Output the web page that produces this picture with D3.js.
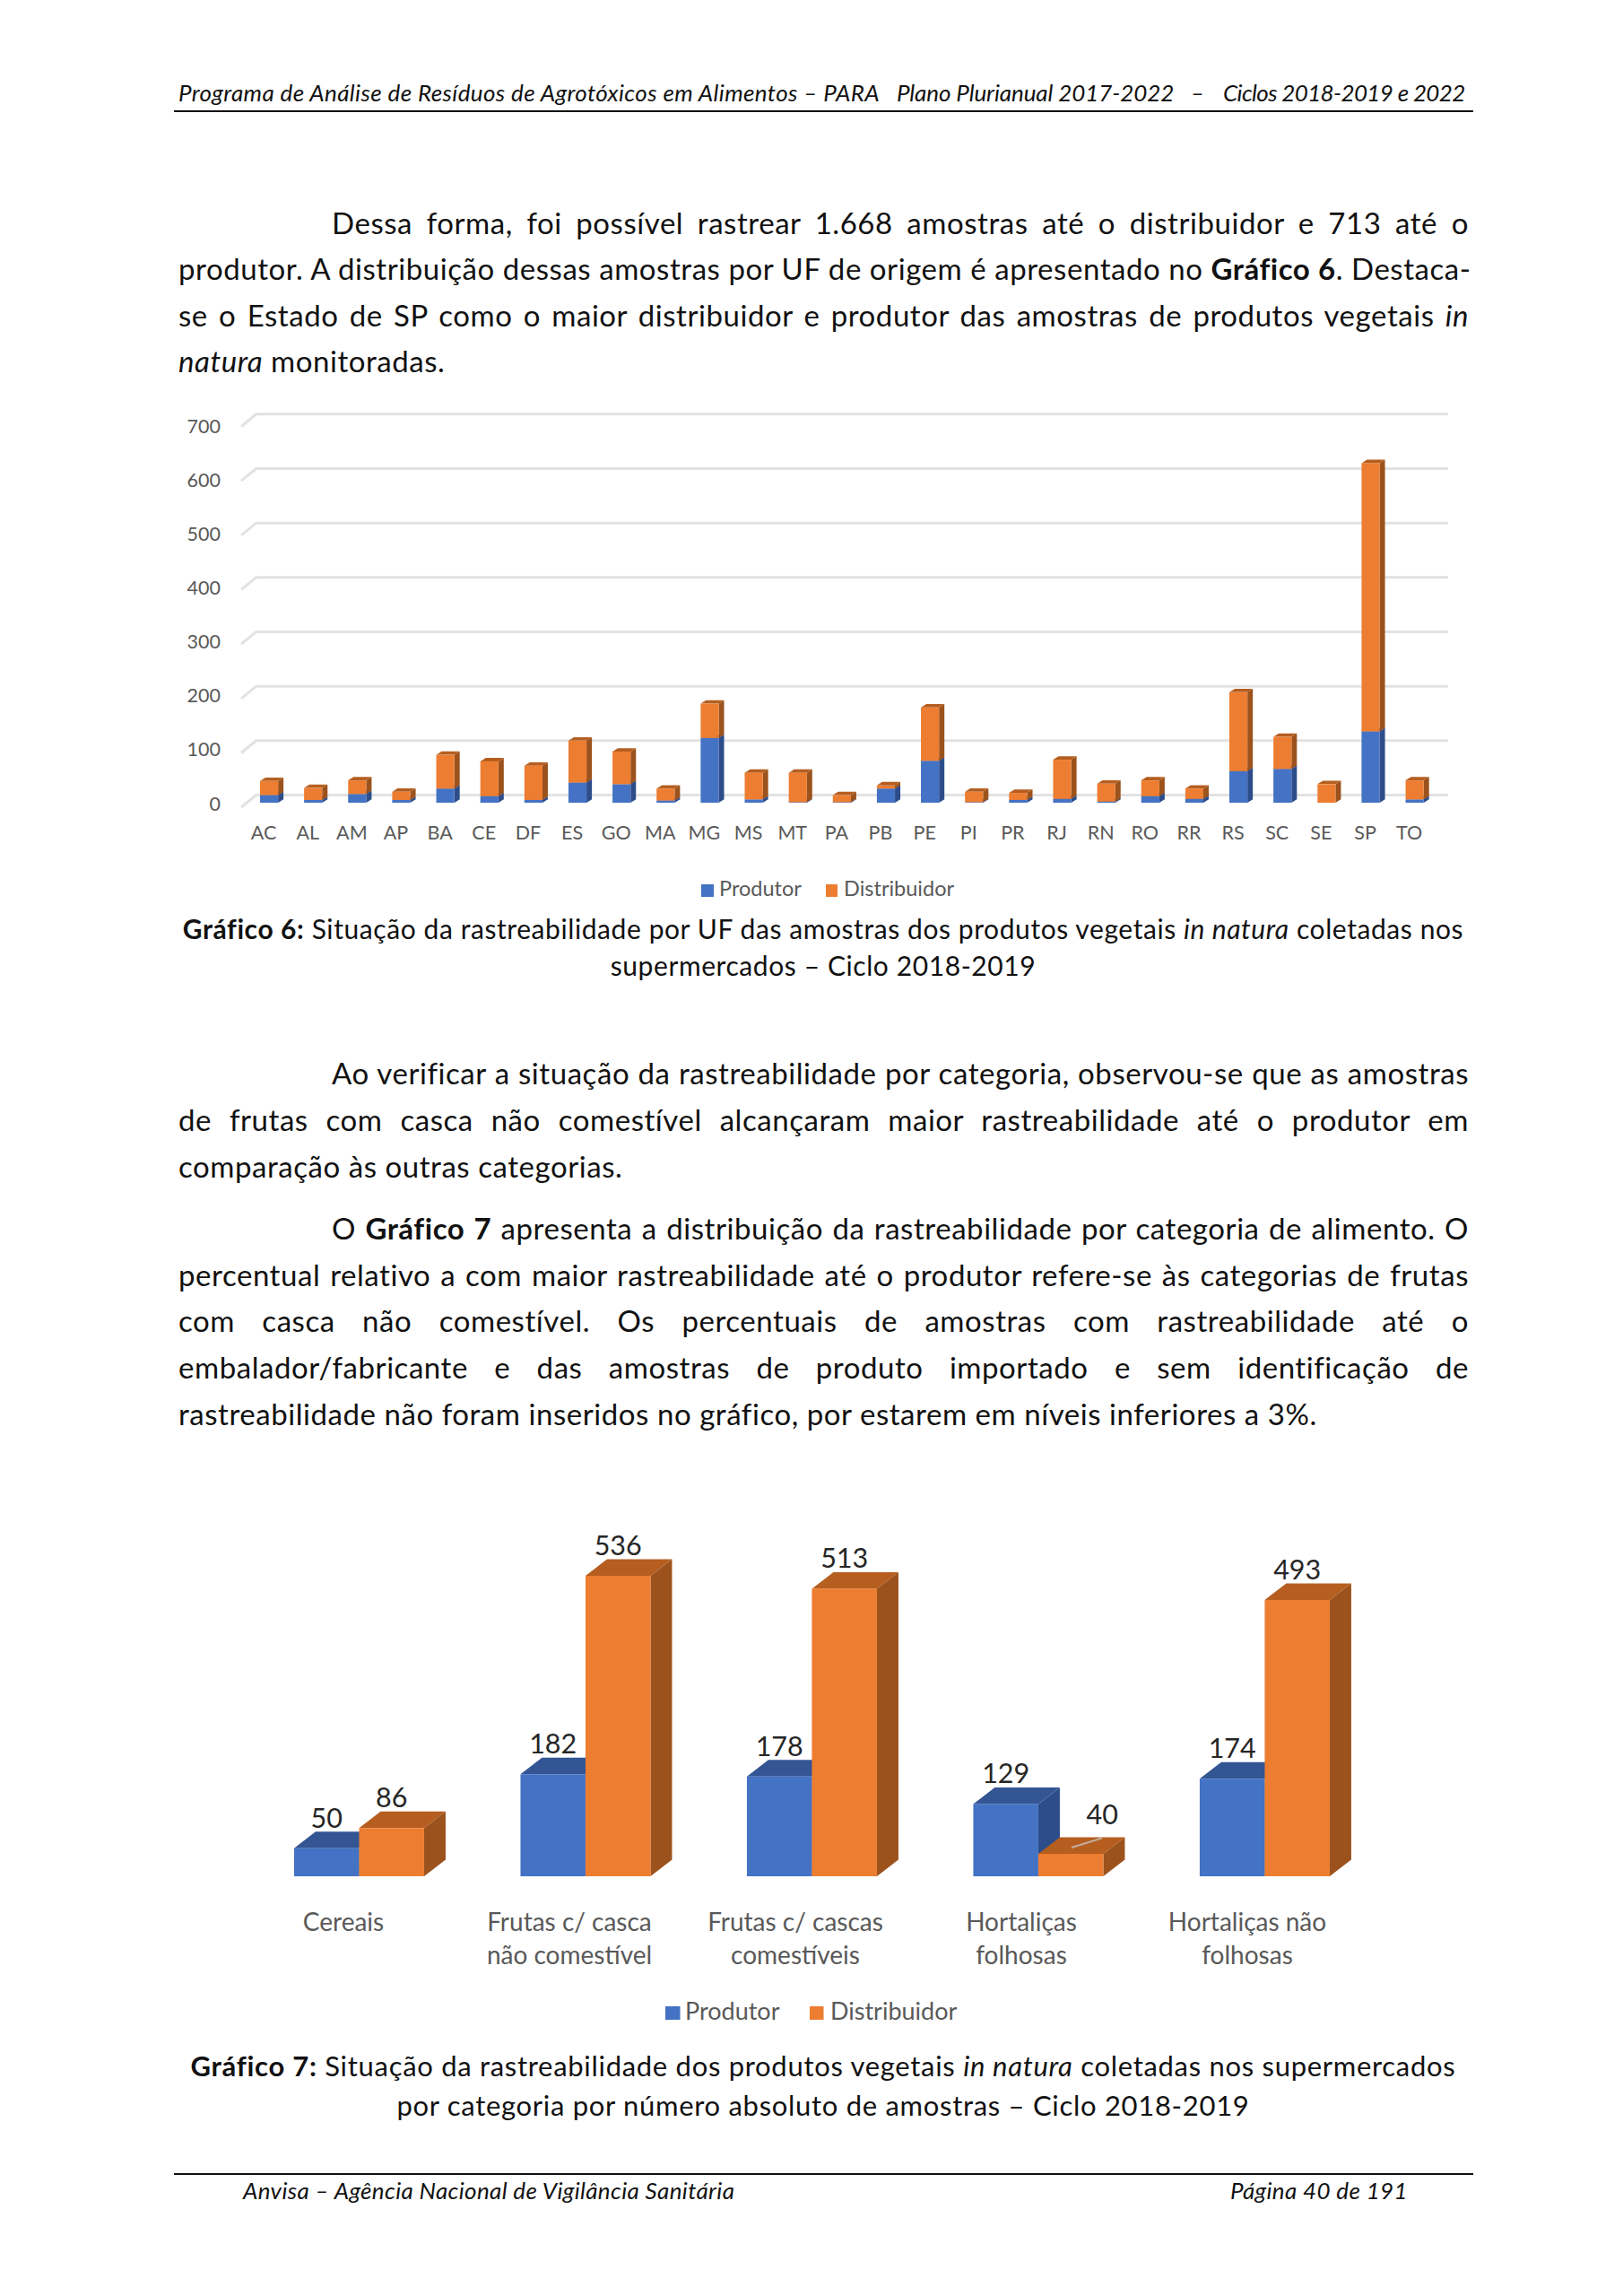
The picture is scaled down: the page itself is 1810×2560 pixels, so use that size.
<!DOCTYPE html>
<html lang="pt">
<head>
<meta charset="utf-8">
<script src="https://cdn.jsdelivr.net/npm/d3@7/dist/d3.min.js"></script>
<style>
html,body{margin:0;padding:0;background:#fff;}
#page{position:relative;width:1810px;height:2560px;overflow:hidden;font-family:Lato,sans-serif;color:#111;}
svg{position:absolute;left:0;top:0;}
.ln{position:absolute;white-space:nowrap;line-height:50px;height:50px;}
.body{font-size:33px;letter-spacing:.55px;}
.cap{font-size:30px;letter-spacing:.58px;}
.cap7{font-size:31px;letter-spacing:.7px;}
.hdr{font-size:26px;font-style:italic;letter-spacing:.35px;}
.rule{position:absolute;background:#111;height:2px;}
.just{text-align:justify;text-align-last:justify;}
.ctr{text-align:center;}
</style>
</head>
<body>
<div id="page"><svg id="chart" width="1810" height="2560"></svg></div>
<script>
// ---- Gráfico 6 ----
const ufs = ["AC","AL","AM","AP","BA","CE","DF","ES","GO","MA","MG","MS","MT","PA","PB","PE","PI","PR","RJ","RN","RO","RR","RS","SC","SE","SP","TO"];
const ufProdutor = [14,5,16,5,26,12,5,37,34,4,119,6,1,1,26,77,1,5,7,2,12,7,58,62,0,131,6];
const ufDistribuidor = [26,22,25,15,62,64,63,77,60,22,63,49,54,13,6,98,19,13,72,33,29,19,145,59,34,493,35];
const ufTicks = [0,100,200,300,400,500,600,700];

// ---- Gráfico 7 ----
const categorias = [["Cereais"],["Frutas c/ casca","não comestível"],["Frutas c/ cascas","comestíveis"],["Hortaliças","folhosas"],["Hortaliças não","folhosas"]];
const catProdutor = [50,182,178,129,174];
const catDistribuidor = [86,536,513,40,493];

const serieNomes = ["Produtor","Distribuidor"];
const cores = {Produtor:{f:"#4472C4",t:"#335593",s:"#2C4D8A"},Distribuidor:{f:"#ED7D31",t:"#B55E20",s:"#9C521C"}};

// ---- Texto da página ----
const cabecalho = [[199,.38,"Programa de Análise de Resíduos de Agrotóxicos em Alimentos – PARA"],[1000,-.1,"Plano Plurianual 2017-2022"],[1328,.35,"–"],[1364,-.65,"Ciclos 2018-2019 e 2022"]];
const paragrafos = [
 [248,370,1,"Dessa forma, foi possível rastrear 1.668 amostras até o distribuidor e 713 até o"],
 [299,199,1,"produtor. A distribuição dessas amostras por UF de origem é apresentado no <b>Gráfico 6</b>. Destaca-"],
 [351,199,1,"se o Estado de SP como o maior distribuidor e produtor das amostras de produtos vegetais <i>in</i>"],
 [402,199,0,"<i>natura</i> monitoradas."],
 [1196,370,1,"Ao verificar a situação da rastreabilidade por categoria, observou-se que as amostras"],
 [1248,199,1,"de frutas com casca não comestível alcançaram maior rastreabilidade até o produtor em"],
 [1300,199,0,"comparação às outras categorias."],
 [1369,370,1,"O <b>Gráfico 7</b> apresenta a distribuição da rastreabilidade por categoria de alimento. O"],
 [1421,199,1,"percentual relativo a com maior rastreabilidade até o produtor refere-se às categorias de frutas"],
 [1472,199,1,"com casca não comestível. Os percentuais de amostras com rastreabilidade até o"],
 [1524,199,1,"embalador/fabricante e das amostras de produto importado e sem identificação de"],
 [1576,199,0,"rastreabilidade não foram inseridos no gráfico, por estarem em níveis inferiores a 3%."]
];
const legendas = [
 [1035,"cap","<b>Gráfico 6:</b> Situação da rastreabilidade por UF das amostras dos produtos vegetais <i>in natura</i> coletadas nos"],
 [1076,"cap","supermercados – Ciclo 2018-2019"],
 [2303,"cap7","<b>Gráfico 7:</b> Situação da rastreabilidade dos produtos vegetais <i>in natura</i> coletadas nos supermercados"],
 [2347,"cap7","por categoria por número absoluto de amostras – Ciclo 2018-2019"]
];

const page = d3.select("#page");
const svg = d3.select("#chart");
function line(cls,y,x,w,html){
  return page.append("div").attr("class","ln "+cls)
    .style("top",(y-25)+"px").style("left",x+"px").style("width",w+"px").html(html);
}
cabecalho.forEach(([x,ls,h])=>line("hdr",103,x,900,h).style("letter-spacing",ls+"px"));
page.append("div").attr("class","rule").style("left","194px").style("top","123px").style("width","1449px");
page.append("div").attr("class","rule").style("left","194px").style("top","2423px").style("width","1449px");
line("hdr",2442,271,600,"Anvisa – Agência Nacional de Vigilância Sanitária");
line("hdr",2442,1372,300,"Página 40 de 191");
paragrafos.forEach(([y,x,j,h])=>line("body"+(j?" just":""),y,x,1638-x,h));
legendas.forEach(([y,c,h])=>line(c+" ctr",y,118,1600,h));

function box(g,x,yTop,yBase,w,dx,dy,c){
  g.append("polygon").attr("fill",c.s).attr("points",[[x+w,yBase],[x+w+dx,yBase-dy],[x+w+dx,yTop-dy],[x+w,yTop]].join(" "));
  g.append("polygon").attr("fill",c.t).attr("points",[[x,yTop],[x+dx,yTop-dy],[x+w+dx,yTop-dy],[x+w,yTop]].join(" "));
  g.append("rect").attr("x",x).attr("y",yTop).attr("width",w).attr("height",Math.max(0,yBase-yTop)).attr("fill",c.f);
}

// ---- Gráfico 6: desenho ----
(function(){
  const g = svg.append("g");
  const y = d3.scaleLinear().domain([0,700]).range([895,470.3]);
  const yLabel = d3.scaleLinear().domain([0,700]).range([895.5,474.5]);
  const x = d3.scaleBand().domain(ufs).range([275.5,1602.2]).paddingInner(.59).paddingOuter(.295);
  const backShift = -8.5, gx0 = 285.6, gx1 = 1615, gdx = 16.5, gdy = 13.7;
  g.append("g").selectAll("path").data(ufTicks).join("path")
    .attr("fill","none").attr("stroke","#e2e2e2").attr("stroke-width",3)
    .attr("d",d=>{const b=y(d)+backShift;return `M${gx0-gdx},${b+gdy}L${gx0},${b}L${gx1},${b}`;});
  const rows = ufs.map((u,i)=>({uf:u,Produtor:ufProdutor[i],Distribuidor:ufDistribuidor[i]}));
  const stack = d3.stack().keys(serieNomes)(rows);
  ufs.forEach((u,i)=>{
    stack.forEach(s=>{
      const v0=s[i][0], v1=s[i][1];
      if(v1>v0) box(g,x(u),y(v1),y(v0),x.bandwidth(),6,3.8,cores[s.key]);
    });
  });
  const ax = g.append("g").attr("transform","translate(246,0)").call(d3.axisLeft(yLabel).tickValues(ufTicks).tickSize(0).tickPadding(0));
  ax.select(".domain").remove();
  ax.selectAll("text").attr("font-family","Lato,sans-serif").attr("font-size",21.5).attr("fill","#595959").attr("dy","0.35em");
  const bx = g.append("g").attr("transform","translate(-6,928)").call(d3.axisBottom(x).tickSize(0).tickPadding(0));
  bx.select(".domain").remove();
  bx.selectAll("text").attr("font-family","Lato,sans-serif").attr("font-size",21.5).attr("fill","#595959").attr("dy","0.35em");
  const lg=[[782,802,14,14],[921,941,13,14]];
  serieNomes.forEach((n,i)=>{
    g.append("rect").attr("x",lg[i][0]).attr("y",986).attr("width",lg[i][2]).attr("height",lg[i][3]).attr("fill",cores[n].f);
    g.append("text").attr("x",lg[i][1]).attr("y",998.5).attr("font-size",23.5).attr("fill","#595959").text(n);
  });
})();

// ---- Gráfico 7: desenho ----
(function(){
  const g = svg.append("g");
  const y = d3.scaleLinear().domain([0,536]).range([2092,1757]);
  const idx = d3.range(categorias.length);
  const x0 = d3.scaleBand().domain(idx).range([274.2,1536.7]).paddingInner(.4257).paddingOuter(.2129);
  const x1 = d3.scaleBand().domain(serieNomes).range([0,x0.bandwidth()]);
  const vals = {Produtor:catProdutor,Distribuidor:catDistribuidor};
  idx.forEach(i=>{
    serieNomes.forEach(n=>{
      box(g,x0(i)+x1(n),y(vals[n][i]),y(0),x1.bandwidth(),24,18.5,cores[n]);
    });
    serieNomes.forEach(n=>{
      const v=vals[n][i], low=(n==="Distribuidor"&&v<catProdutor[i]);
      g.append("text").attr("x",x0(i)+x1(n)+x1.bandwidth()/2+(low?35:0)).attr("y",y(v)-(low?33:23))
       .attr("text-anchor","middle").attr("font-size",30.5).attr("fill","#262626").text(v);
    });
    categorias[i].forEach((t,k)=>{
      g.append("text").attr("x",383+252*i).attr("y",2153+37*k).attr("text-anchor","middle")
       .attr("font-size",28).attr("fill","#595959").text(t);
    });
  });
  // marca de grade sobre o topo da barra laranja baixa
  const ib=3;
  g.append("line").attr("x1",x0(ib)+x1("Distribuidor")+37).attr("y1",y(catDistribuidor[ib])-7)
   .attr("x2",x0(ib)+x1("Distribuidor")+71).attr("y2",y(catDistribuidor[ib])-17.5)
   .attr("stroke","#c4ad9b").attr("stroke-width",2);
  const lg=[[742,764,16.5],[903,926,15.5]];
  serieNomes.forEach((n,i)=>{
    g.append("rect").attr("x",lg[i][0]).attr("y",2237).attr("width",lg[i][2]).attr("height",15).attr("fill",cores[n].f);
    g.append("text").attr("x",lg[i][1]).attr("y",2252).attr("font-size",27).attr("fill","#595959").text(n);
  });
})();
</script>
</body>
</html>
